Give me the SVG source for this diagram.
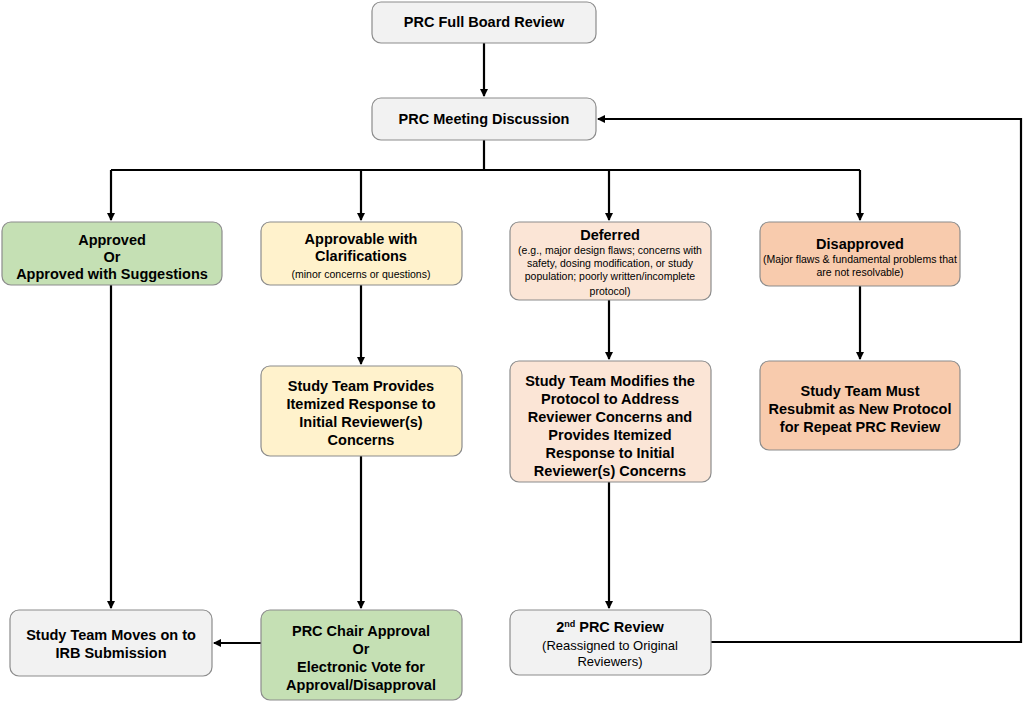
<svg xmlns="http://www.w3.org/2000/svg" width="1024" height="701" viewBox="0 0 1024 701">
<style>
rect{stroke:#8c8c8c;stroke-width:1.2}
.g{fill:#f2f2f2}.gr{fill:#c5e0b4}.y{fill:#fff2cc}.p{fill:#fbe5d6}.o{fill:#f8cbad}
text{font-family:"Liberation Sans",Arial,sans-serif;text-anchor:middle;fill:#000}
.b{font-weight:bold;font-size:14.5px}
.s{font-size:10.5px}.m{font-size:13px}
.c path{fill:none;stroke:#000;stroke-width:2.2}
</style>
<defs><marker id="a" markerWidth="8" markerHeight="8" refX="7" refY="4" orient="auto" markerUnits="userSpaceOnUse" viewBox="0 0 8 8"><path d="M0,0L8,4L0,8z" fill="#000"/></marker></defs>
<g class="c">
<path d="M484,43V96" marker-end="url(#a)"/>
<path d="M484,140V170M111,170H860"/>
<path d="M111,170V220" marker-end="url(#a)"/>
<path d="M361,170V220" marker-end="url(#a)"/>
<path d="M609,170V220" marker-end="url(#a)"/>
<path d="M860,170V220" marker-end="url(#a)"/>
<path d="M111,285V608" marker-end="url(#a)"/>
<path d="M361,285V364" marker-end="url(#a)"/>
<path d="M361,456V608" marker-end="url(#a)"/>
<path d="M609,300V359" marker-end="url(#a)"/>
<path d="M609,482V608" marker-end="url(#a)"/>
<path d="M860,286V359" marker-end="url(#a)"/>
<path d="M261,643H214" marker-end="url(#a)"/>
<path d="M711,642H1021V119H598" marker-end="url(#a)"/>
</g>
<g id="n1"><rect class="g" x="372" y="2" width="224" height="41" rx="9"/><text class="b" x="484" y="27">PRC Full Board Review</text></g>
<g id="n2"><rect class="g" x="372" y="98" width="224" height="42" rx="9"/><text class="b" x="484" y="124">PRC Meeting Discussion</text></g>
<g id="n3"><rect class="gr" x="2" y="222" width="220" height="63" rx="9"/><text class="b" x="112" y="245">Approved</text><text class="b" x="112" y="262">Or</text><text class="b" x="112" y="279">Approved with Suggestions</text></g>
<g id="n4"><rect class="y" x="261" y="222" width="201" height="63" rx="9"/><text class="b" x="361" y="244">Approvable with</text><text class="b" x="361" y="261">Clarifications</text><text class="s" x="361" y="278">(minor concerns or questions)</text></g>
<g id="n5"><rect class="p" x="510" y="222" width="201" height="78" rx="9"/><text class="b" x="610" y="240">Deferred</text><text class="s" x="610" y="254">(e.g., major design flaws; concerns with</text><text class="s" x="610" y="267">safety, dosing modification, or study</text><text class="s" x="610" y="280">population; poorly written/incomplete</text><text class="s" x="610" y="295">protocol)</text></g>
<g id="n6"><rect class="o" x="760" y="222" width="200" height="64" rx="9"/><text class="b" x="860" y="249">Disapproved</text><text class="s" x="860" y="263">(Major flaws &amp; fundamental problems that</text><text class="s" x="860" y="276">are not resolvable)</text></g>
<g id="n7"><rect class="y" x="261" y="366" width="201" height="90" rx="9"/><text class="b" x="361" y="391">Study Team Provides</text><text class="b" x="361" y="409">Itemized Response to</text><text class="b" x="361" y="427">Initial Reviewer(s)</text><text class="b" x="361" y="445">Concerns</text></g>
<g id="n8"><rect class="p" x="510" y="361" width="201" height="121" rx="9"/><text class="b" x="610" y="386">Study Team Modifies the</text><text class="b" x="610" y="404">Protocol to Address</text><text class="b" x="610" y="422">Reviewer Concerns and</text><text class="b" x="610" y="440">Provides Itemized</text><text class="b" x="610" y="458">Response to Initial</text><text class="b" x="610" y="476">Reviewer(s) Concerns</text></g>
<g id="n9"><rect class="o" x="760" y="361" width="200" height="89" rx="9"/><text class="b" x="860" y="396">Study Team Must</text><text class="b" x="860" y="414">Resubmit as New Protocol</text><text class="b" x="860" y="432">for Repeat PRC Review</text></g>
<g id="n10"><rect class="g" x="10" y="610" width="202" height="66" rx="9"/><text class="b" x="111" y="640">Study Team Moves on to</text><text class="b" x="111" y="658">IRB Submission</text></g>
<g id="n11"><rect class="gr" x="261" y="610" width="201" height="90" rx="9"/><text class="b" x="361" y="636">PRC Chair Approval</text><text class="b" x="361" y="654">Or</text><text class="b" x="361" y="672">Electronic Vote for</text><text class="b" x="361" y="690">Approval/Disapproval</text></g>
<g id="n12"><rect class="g" x="510" y="610" width="201" height="65" rx="9"/><text class="b" x="610" y="632">2<tspan font-size="9" dy="-5">nd</tspan><tspan dy="5"> PRC Review</tspan></text><text class="m" x="610" y="650">(Reassigned to Original</text><text class="m" x="610" y="666">Reviewers)</text></g>
</svg>
